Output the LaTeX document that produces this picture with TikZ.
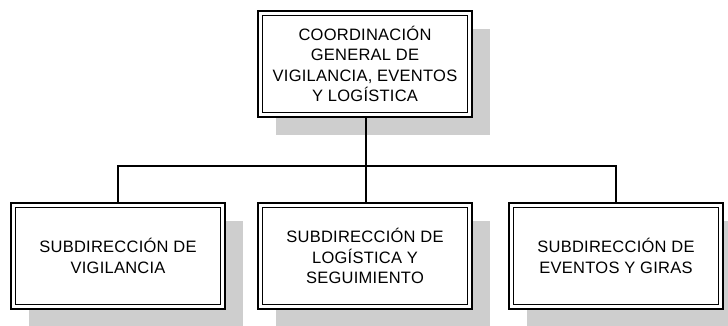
\documentclass[tikz,border=0pt]{standalone}
\usepackage{fontspec}
\setmainfont{Liberation Sans}[LetterSpace=1.5]
\usetikzlibrary{backgrounds}
\definecolor{shadowgray}{RGB}{206,206,206}
\tikzset{
  orgbox/.style={draw=black, line width=2pt, fill=white, minimum width=214pt, minimum height=106pt,
    inner sep=0pt, outer sep=0pt, align=center, font=\fontsize{16.5}{20.5}\selectfont},
  inner line/.style={draw=black, line width=0.9pt},
  connector/.style={draw=black, line width=1.3pt},
  shadowfill/.style={fill=shadowgray, draw=none}
}
\newcommand{\innerframe}[1]{\draw[inner line] ([shift={(4.5pt,4.5pt)}]#1.south west) rectangle ([shift={(-4.5pt,-4.5pt)}]#1.north east);}
\newcommand{\boxshadow}[1]{\fill[shadowfill] ([shift={(18pt,-18pt)}]#1.south west) rectangle ([shift={(18pt,-18pt)}]#1.north east);}
\begin{document}
\begin{tikzpicture}[x=1pt,y=1pt]
\useasboundingbox (0,0) rectangle (728,-325);
\node[orgbox] (top) at (365,-64) {COORDINACIÓN\\GENERAL DE\\VIGILANCIA, EVENTOS\\Y LOGÍSTICA};
\node[orgbox] (left) at (118,-256) {SUBDIRECCIÓN DE\\VIGILANCIA};
\node[orgbox] (mid) at (365,-256) {SUBDIRECCIÓN DE\\LOGÍSTICA Y\\SEGUIMIENTO};
\node[orgbox] (right) at (616,-256) {SUBDIRECCIÓN DE\\EVENTOS Y GIRAS};
\innerframe{top}
\innerframe{left}
\innerframe{mid}
\innerframe{right}
\coordinate (bar) at (366,-166);
\begin{scope}[on background layer]
  \boxshadow{top}
  \boxshadow{left}
  \boxshadow{mid}
  \boxshadow{right}
  \draw[connector] (top.south -| bar) -- (bar);
  \draw[connector] (left.north) |- (bar) -| (right.north);
  \draw[connector] (bar) -- (bar |- mid.north);
\end{scope}
\end{tikzpicture}
\end{document}
